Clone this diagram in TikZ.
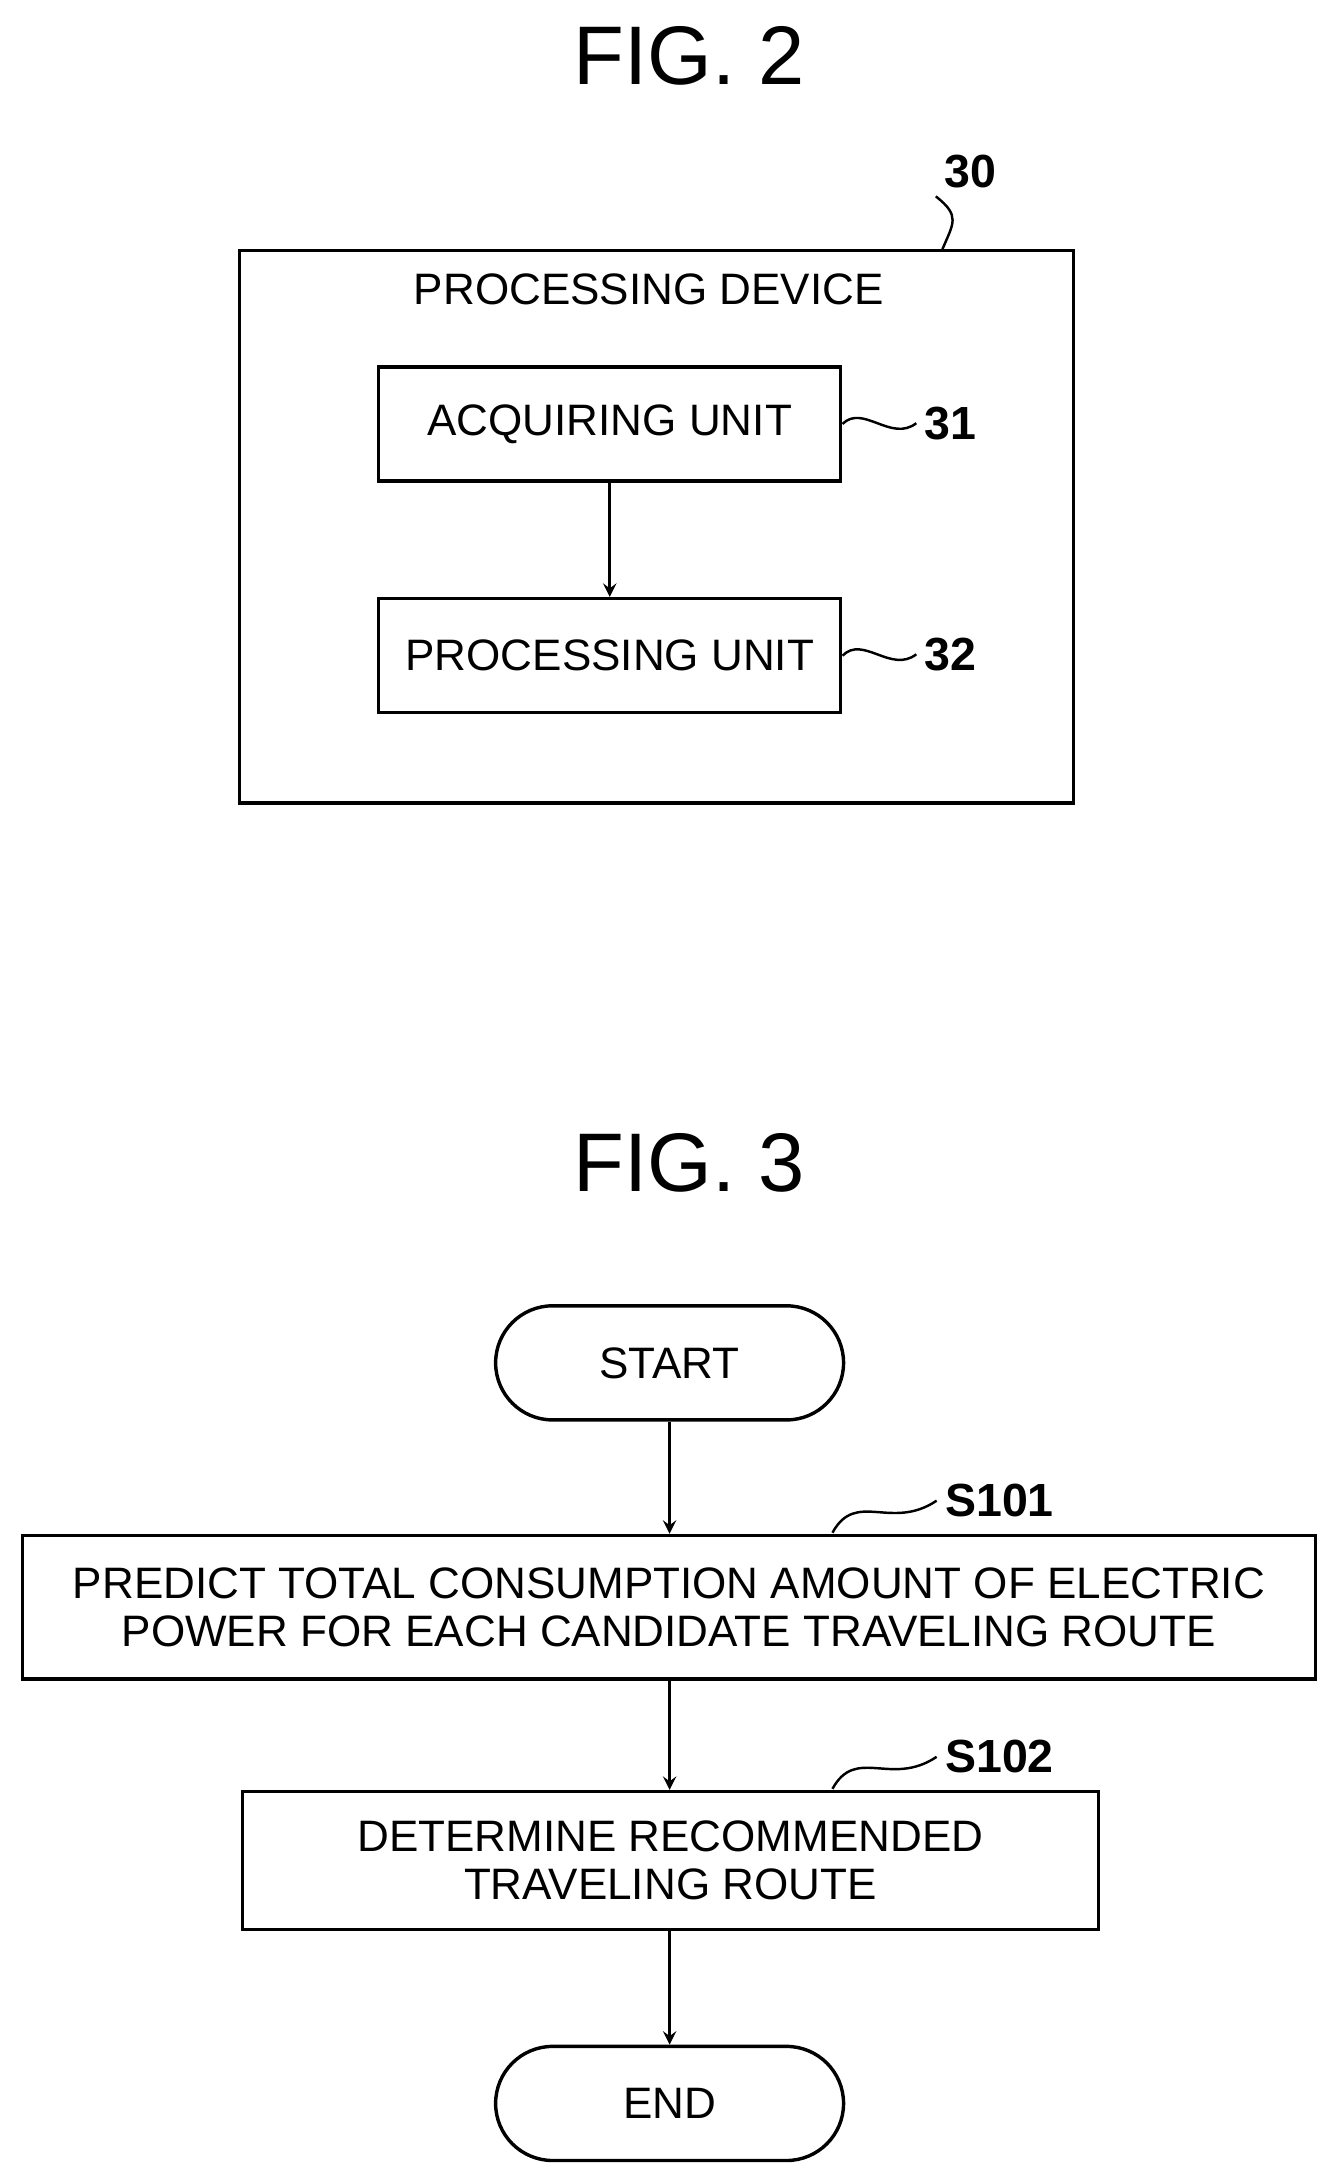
\documentclass[tikz,border=0pt]{standalone}
\usepackage{fontspec}
\setmainfont{Liberation Sans}
\usetikzlibrary{positioning}
\begin{document}
\begin{tikzpicture}[x=0.02cm,y=-0.02cm,
  boxDecorate/.style={draw,line width=1.4pt,minimum height=1.64cm,inner sep=0pt},
  termDecorate/.style={draw,line width=1.4pt,rounded corners=0.82cm,minimum width=5cm,minimum height=1.64cm},
  arrowDecorate/.style={->,>=stealth,line width=1.4pt},
  textDecorate/.style={font=\fontsize{18}{19.5}\selectfont,align=center},
  titleDecorate/.style={font=\fontsize{34}{36}\selectfont},
  refDecorate/.style={font=\bfseries\fontsize{19}{20}\selectfont}
]
\useasboundingbox (0,0) rectangle (960,1566);
%%
%% Fig. 2.
\node[titleDecorate] (figTwo) at (495,40) {FIG. 2};
\node[boxDecorate,minimum width=11.98cm,minimum height=7.94cm] (device) at (471.5,378.5) {};
\node[textDecorate] (deviceText) at (466,208) {PROCESSING DEVICE};
\node[boxDecorate,minimum width=6.64cm] (acquire) at (438,304.5) {\fontsize{18}{19}\selectfont ACQUIRING UNIT};
\node[boxDecorate,minimum width=6.64cm] (process) at (438,471) {\fontsize{18}{19}\selectfont PROCESSING UNIT};
\draw[arrowDecorate] (acquire) -- (process);
\node[refDecorate] (refThirty) at (697,123) {30};
\node[refDecorate] (refOne) at (683,304) {31};
\node[refDecorate] (refTwo) at (683,470) {32};
\draw[line width=1pt] (677,179) .. controls (685,160) and (690,155) .. (refThirty.south west);
\draw[line width=1pt] (acquire.east) .. controls (620,290) and (640,318) .. (refOne.west);
\draw[line width=1pt] (process.east) .. controls (620,456) and (640,484) .. (refTwo.west);
%%
%% Fig. 3.
\node[titleDecorate] (figThree) at (495,835) {FIG. 3};
\node[termDecorate,textDecorate] (start) at (481,979) {START};
\node[boxDecorate,minimum width=18.58cm,minimum height=2.06cm,textDecorate] (predict) at (480.5,1154.5)
  {PREDICT TOTAL CONSUMPTION AMOUNT OF ELECTRIC\\POWER FOR EACH CANDIDATE TRAVELING ROUTE};
\node[boxDecorate,minimum width=12.3cm,minimum height=1.98cm,textDecorate] (decide) at (481.5,1336.5)
  {DETERMINE RECOMMENDED\\TRAVELING ROUTE};
\node[termDecorate,textDecorate] (finish) at (481,1511) {END};
\draw[arrowDecorate] (start) -- (predict.north -| start);
\draw[arrowDecorate] (predict.south -| start) -- (decide.north -| start);
\draw[arrowDecorate] (decide.south -| start) -- (finish);
\node[refDecorate] (stepOne) at (718,1078) {S101};
\node[refDecorate] (stepTwo) at (718,1262) {S102};
\draw[line width=1pt] (598,1101) .. controls (615,1070) and (640,1100) .. (stepOne.west);
\draw[line width=1pt] (598,1285) .. controls (615,1254) and (640,1284) .. (stepTwo.west);
\end{tikzpicture}
\end{document}
